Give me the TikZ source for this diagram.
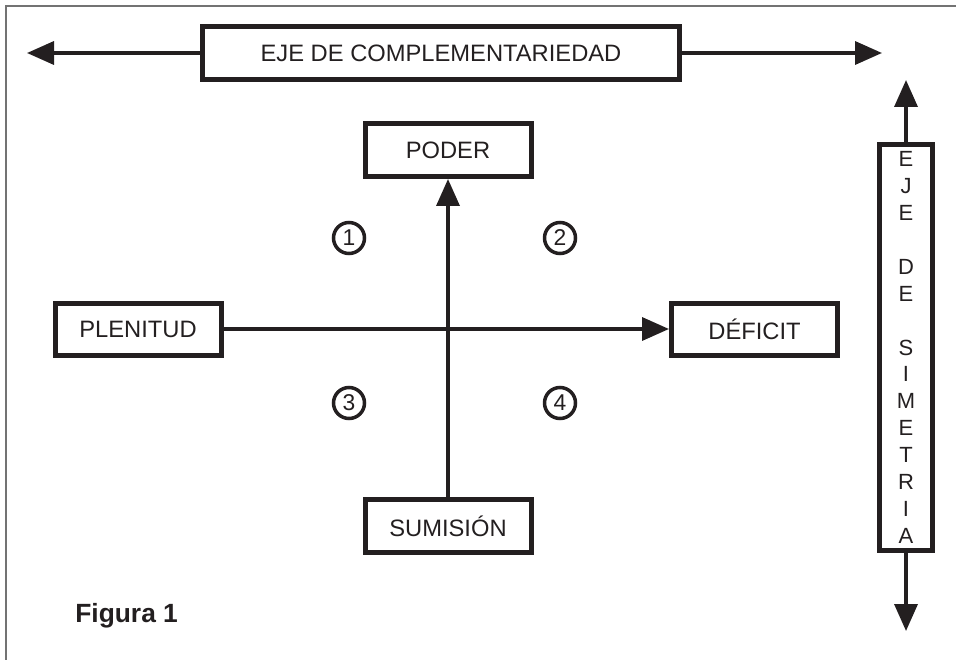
\documentclass[tikz,border=0pt]{standalone}
\usepackage{fontspec}
\setmainfont{Liberation Sans}
\usepackage{tikz}
\usetikzlibrary{arrows.meta, positioning}
\definecolor{ink}{RGB}{35, 31, 32}
\definecolor{framegray}{RGB}{115, 115, 115}
\tikzset{>={Triangle[length=0.54cm, width=0.46cm]}}
\tikzset{
  labelbox/.style = {draw = ink, text = ink, line width = 0.1cm, inner sep = 0pt,
                     minimum width = 3.32cm, minimum height = 1.06cm,
                     font = \fontsize{13.5}{15.4}\selectfont},
  axisline/.style = {draw = ink, line width = 0.07cm, ->},
  quadrant/.style = {circle, draw = ink, text = ink, line width = 0.07cm, inner sep = 0pt,
                     minimum size = 0.62cm, font = \fontsize{13}{15}\selectfont}
}

\begin{document}
\begin{tikzpicture}
\useasboundingbox (0,0) rectangle (19.12,-13.2);
% marco
\draw[framegray, line width = 0.04cm] (0.12,-13.2) -- (0.12,-0.13) -- (19.12,-0.13);
% eje de complementariedad
\node[labelbox, minimum width = 9.54cm] (compl) at (8.82,-1.06) {EJE DE COMPLEMENTARIEDAD};
\coordinate (compl-l) at (0.54,-1.06);
\coordinate (compl-r) at (17.64,-1.06);
\draw[axisline] (compl.west) -- (compl-l);
\draw[axisline] (compl.east) -- (compl-r);
% eje de simetria
\node[labelbox, minimum width = 1.06cm, minimum height = 8.12cm, align = center,
      font = \fontsize{12.5}{15.3}\selectfont] (simet) at (18.12,-6.95)
  {E\\J\\E\\~\\D\\E\\~\\S\\I\\M\\E\\T\\R\\I\\A};
\coordinate (simet-t) at (18.12,-1.6);
\coordinate (simet-b) at (18.12,-12.62);
\draw[axisline] (simet.north) -- (simet-t);
\draw[axisline] (simet.south) -- (simet-b);
% cruz central
\node[labelbox] (poder) at (8.96,-3.0) {PODER};
\node[labelbox] (sumision) at (8.96,-10.52) {SUMISIÓN};
\node[labelbox, minimum height = 1.04cm] (plenitud) at (2.76,-6.58) {PLENITUD};
\node[labelbox, minimum height = 1.04cm] (deficit) at (15.09,-6.58) {DÉFICIT};
\draw[axisline] (sumision.north) -- (poder.south);
\draw[axisline] (plenitud.east) -- (deficit.west);
\foreach \n / \x / \y in {1 / 6.98 / -4.76, 2 / 11.2 / -4.76, 3 / 6.98 / -8.06, 4 / 11.2 / -8.06}{
\node[quadrant] (q\n) at (\x,\y) {\n};
}
\node[anchor = base west, inner sep = 0pt, text = ink, font = \fontsize{15}{17}\selectfont\bfseries] (fig) at (1.5,-12.44) {Figura 1};
\end{tikzpicture}
\end{document}
